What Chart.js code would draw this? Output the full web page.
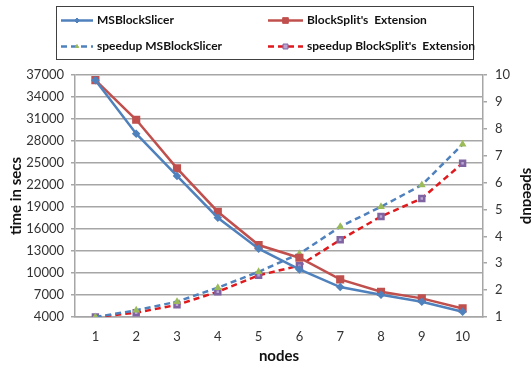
<!DOCTYPE html>
<html>
<head>
<meta charset="utf-8">
<script src="https://cdn.jsdelivr.net/npm/chart.js@4"></script>
<style>
  html, body { margin: 0; padding: 0; background: #fff; }
  #wrap { width: 531px; height: 369px; position: relative; }
</style>
</head>
<body>
<div id="wrap"><canvas id="chart"></canvas></div>
<script>
// categories (number of nodes)
const nodes = ['1', '2', '3', '4', '5', '6', '7', '8', '9', '10'];

// time in secs (left axis)
const timeMSBlockSlicer = [36300, 29000, 23230, 17540, 13310, 10490, 8080, 7030, 6080, 4710];
const timeBlockSplit = [36300, 30900, 24270, 18355, 13810, 12080, 9130, 7440, 6540, 5170];

// speedup (right axis)
const speedupMSBlockSlicer = [1.0, 1.25, 1.57, 2.09, 2.68, 3.35, 4.36, 5.10, 5.91, 7.42];
const speedupBlockSplit = [1.0, 1.16, 1.45, 1.94, 2.55, 2.91, 3.87, 4.74, 5.41, 6.72];

const labels = ['MSBlockSlicer', "BlockSplit's  Extension", 'speedup MSBlockSlicer', "speedup BlockSplit's  Extension"];

const FONT = 'Lato, "DejaVu Sans", sans-serif';
const TEXT = '#333333';
const GRID = '#a6a6a6';

// legend drawn as a boxed 2x2 grid like the original
const gridLegend = {
    id: 'gridLegend',
    afterDraw(chart) {
        const ctx = chart.ctx;
        ctx.save();
        ctx.strokeStyle = '#404040';
        ctx.lineWidth = 1;
        ctx.strokeRect(56.5, 6.5, 417, 53);
        ctx.font = 'bold 12px ' + FONT;
        ctx.textBaseline = 'middle';
        chart.data.datasets.forEach((ds, i) => {
            const col = i % 2, row = Math.floor(i / 2);
            const x0 = col ? 268 : 61;
            const x1 = col ? 303 : 93;
            const y = row ? 46.5 : 20.5;
            ctx.save();
            ctx.strokeStyle = ds.borderColor;
            ctx.lineWidth = ds.borderWidth;
            ctx.setLineDash(ds.borderDash || []);
            ctx.beginPath();
            ctx.moveTo(x0, y);
            ctx.lineTo(x1, y);
            ctx.stroke();
            ctx.restore();
            ctx.save();
            ctx.fillStyle = ds.pointBackgroundColor;
            ctx.strokeStyle = ds.pointBorderColor;
            ctx.lineWidth = 1;
            Chart.helpers.drawPoint(ctx, {
                pointStyle: ds.pointStyle,
                radius: ds.pointRadius,
                borderWidth: 1,
                rotation: 0
            }, (x0 + x1) / 2, y);
            ctx.restore();
            ctx.fillStyle = '#111';
            ctx.fillText(ds.label, x1 + 4, y);
        });
        ctx.restore();
    }
};

const tickFont = { family: FONT, size: 13 };
const titleFont = { family: FONT, size: 15, weight: 'bold' };

new Chart(document.getElementById('chart'), {
    type: 'line',
    data: {
        labels: nodes,
        datasets: [
            {
                label: labels[0],
                data: timeMSBlockSlicer,
                yAxisID: 'y',
                borderColor: '#4f81bd',
                borderWidth: 2.5,
                pointStyle: 'rectRot',
                pointRadius: 2.5,
                pointBackgroundColor: '#4f81bd',
                pointBorderColor: '#4f81bd'
            },
            {
                label: labels[1],
                data: timeBlockSplit,
                yAxisID: 'y',
                borderColor: '#c0504d',
                borderWidth: 2.5,
                pointStyle: 'rect',
                pointRadius: 4,
                pointBackgroundColor: '#c0504d',
                pointBorderColor: '#c0504d'
            },
            {
                label: labels[2],
                data: speedupMSBlockSlicer,
                yAxisID: 'y1',
                borderColor: '#4f81bd',
                borderWidth: 2.5,
                borderDash: [6, 4],
                pointStyle: 'triangle',
                pointRadius: 2,
                pointBackgroundColor: '#9bbb59',
                pointBorderColor: '#9bbb59'
            },
            {
                label: labels[3],
                data: speedupBlockSplit,
                yAxisID: 'y1',
                borderColor: '#e0191c',
                borderWidth: 2.5,
                borderDash: [6, 4],
                pointStyle: 'rect',
                pointRadius: 3.5,
                pointBackgroundColor: '#b9a6d3',
                pointBorderColor: '#8064a2'
            }
        ]
    },
    options: {
        responsive: true,
        maintainAspectRatio: false,
        animation: false,
        layout: { padding: { top: 75, left: 0, right: 0, bottom: 0 } },
        elements: { line: { tension: 0 }, point: { borderWidth: 1 } },
        plugins: {
            legend: { display: false },
            tooltip: { enabled: false }
        },
        scales: {
            x: {
                offset: true,
                grid: { display: false, drawTicks: false },
                border: { display: true, color: GRID, width: 1.5 },
                ticks: { color: TEXT, font: tickFont, padding: 12 },
                title: {
                    display: true, text: 'nodes', color: '#111', font: titleFont,
                    padding: { top: 0, bottom: 4 }
                },
                afterFit: (s) => { s.height = 52; }
            },
            y: {
                position: 'left',
                min: 4000,
                max: 37000,
                ticks: {
                    stepSize: 3000, color: TEXT, font: tickFont, padding: 7,
                    callback: (v) => String(v)
                },
                grid: { color: GRID, lineWidth: 1.5, tickLength: 4 },
                border: { display: true, color: GRID, width: 1.5 },
                title: {
                    display: true, text: 'time in secs', color: '#111', font: titleFont,
                    padding: { top: 7, bottom: 0 }
                },
                afterFit: (s) => { s.width = 75; }
            },
            y1: {
                position: 'right',
                min: 1,
                max: 10,
                ticks: { stepSize: 1, color: TEXT, font: tickFont, padding: 8 },
                grid: { drawOnChartArea: false, color: GRID, lineWidth: 1.5, tickLength: 4 },
                border: { display: true, color: GRID, width: 1.5 },
                title: {
                    display: true, text: 'speedup', color: '#111', font: titleFont,
                    padding: { top: -6, bottom: 0 }
                },
                afterFit: (s) => { s.width = 48; }
            }
        }
    },
    plugins: [gridLegend]
});
</script>
</body>
</html>
